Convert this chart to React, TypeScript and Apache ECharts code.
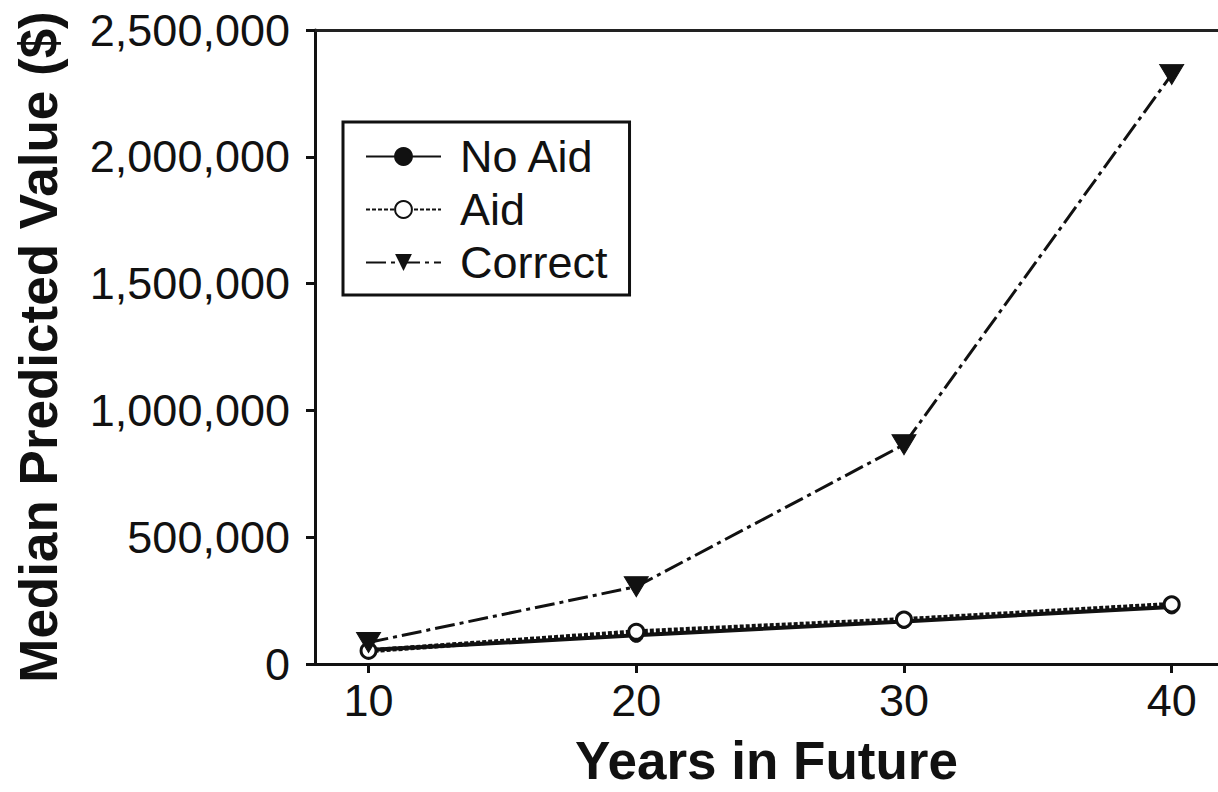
import React, { useEffect, useRef } from "react";
import * as echarts from "echarts";

const years = [10, 20, 30, 40];
const noAid = [55000, 113000, 168000, 225000];
const aid = [52000, 127000, 175000, 235000];
const correct = [85000, 305000, 865000, 2325000];
const xTicks = [10, 20, 30, 40];

const FONT = "'Liberation Sans', Arial, Helvetica, sans-serif";
const INK = "#111";

function pairs(ys: number[]) {
  return years.map((x, i) => [x, ys[i]]);
}

export default function App() {
  const ref = useRef<HTMLDivElement>(null);
  useEffect(() => {
    if (!ref.current) return;
    const chart = echarts.init(ref.current, undefined, { renderer: "svg" });
    chart.setOption({
      animation: false,
      backgroundColor: "#fff",
      textStyle: { fontFamily: FONT, color: INK },
      grid: { left: 315, top: 30, right: 0, height: 642, containLabel: false },
      xAxis: [
        {
          type: "value",
          min: 8,
          max: 41.73,
          name: "Years in Future",
          nameLocation: "middle",
          nameGap: 70,
          nameTextStyle: { fontFamily: FONT, fontSize: 53, fontWeight: "bold", color: INK },
          axisLine: { show: true, onZero: false, lineStyle: { color: INK, width: 3 } },
          axisTick: { show: true, length: 9, lineStyle: { color: INK, width: 3 }, customValues: xTicks },
          axisLabel: { fontFamily: FONT, fontSize: 45, color: INK, margin: 14, customValues: xTicks },
          splitLine: { show: false },
        },
        {
          type: "value",
          position: "top",
          min: 8,
          max: 41.73,
          axisLine: { show: true, onZero: false, lineStyle: { color: "#222", width: 3 } },
          axisTick: { show: false },
          axisLabel: { show: false },
          splitLine: { show: false },
        },
      ],
      yAxis: {
        type: "value",
        min: 0,
        max: 2500000,
        interval: 500000,
        name: "Median Predicted Value ($)",
        nameLocation: "middle",
        nameGap: 250,
        nameTextStyle: { fontFamily: FONT, fontSize: 53, fontWeight: "bold", color: INK },
        axisLine: { show: true, lineStyle: { color: INK, width: 3 } },
        axisTick: { show: true, length: 9, lineStyle: { color: INK, width: 3 } },
        axisLabel: {
          fontFamily: FONT,
          fontSize: 45,
          color: INK,
          margin: 25,
          formatter: (v: number) => v.toLocaleString("en-US"),
        },
        splitLine: { show: false },
      },
      legend: {
        orient: "vertical",
        left: 343,
        top: 122,
        itemWidth: 75,
        itemHeight: 21,
        itemGap: 8,
        padding: [12, 22, 10, 22],
        borderColor: INK,
        borderWidth: 3,
        backgroundColor: "#fff",
        textStyle: { fontFamily: FONT, fontSize: 45, color: INK, padding: [0, 0, 0, 14] },
        data: ["No Aid", "Aid", "Correct"],
      },
      series: [
        {
          name: "No Aid",
          type: "line",
          data: pairs(noAid),
          symbol: "circle",
          symbolSize: 14,
          itemStyle: { color: INK, borderColor: INK, borderWidth: 1 },
          lineStyle: { color: INK, width: 4, type: "solid" },
          z: 2,
        },
        {
          name: "Aid",
          type: "line",
          data: pairs(aid),
          symbol: "circle",
          symbolSize: 15,
          itemStyle: { color: "#fff", borderColor: INK, borderWidth: 3 },
          lineStyle: { color: INK, width: 5, type: [4, 2] },
          z: 3,
        },
        {
          name: "Correct",
          type: "line",
          data: pairs(correct),
          symbol: "triangle",
          symbolRotate: 180,
          symbolSize: [24, 20],
          itemStyle: { color: INK, borderColor: INK },
          lineStyle: { color: INK, width: 3, type: [20, 5, 4, 5] },
          z: 4,
        },
      ],
    });
    return () => chart.dispose();
  }, []);
  return <div ref={ref} style={{ width: 1218, height: 792, position: "absolute", left: 0, top: 0 }} />;
}
